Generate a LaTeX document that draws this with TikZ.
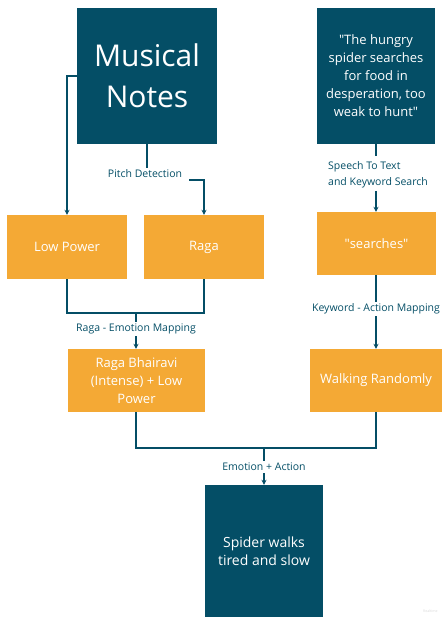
\documentclass[tikz,border=0pt]{standalone}
\usepackage{fontspec}
\setmainfont{Open Sans}
\usetikzlibrary{arrows.meta}
\definecolor{teal}{RGB}{4,78,102}
\definecolor{orng}{RGB}{244,169,53}
\begin{document}
\begin{tikzpicture}[x=1pt,y=-1pt,
  darkbox/.style={fill=teal,draw=none,text=white,align=center,inner sep=0pt},
  orbox/.style={fill=orng,draw=none,text=white,align=center,inner sep=0pt,
     font=\fontsize{13}{18}\selectfont},
  lbl/.style={text=teal,font=\fontsize{10.5}{16}\selectfont,inner sep=2pt},
  ln/.style={draw=teal,line width=1.3pt},
  arr/.style={ln,-{Stealth[length=5pt,width=5pt]}}]
\useasboundingbox (0,0) rectangle (442,617);
% boxes
\node[darkbox,minimum width=140,minimum height=136,font=\fontsize{30}{41}\selectfont] (notes) at (147,76) {Musical\\Notes};
\node[darkbox,minimum width=118,minimum height=136,font=\fontsize{13}{18}\selectfont] (quote) at (376,76) {\textquotedbl The hungry\\spider searches\\for food in\\desperation, too\\weak to hunt\textquotedbl};
\node[orbox,minimum width=120,minimum height=64] (low) at (67,247) {Low Power};
\node[orbox,minimum width=120,minimum height=64] (raga) at (204,247) {Raga};
\node[orbox,minimum width=119,minimum height=63] (searches) at (376.5,243.5) {\textquotedbl searches\textquotedbl};
\node[orbox,minimum width=137,minimum height=63] (bhairavi) at (136.5,380.5) {Raga Bhairavi\\(Intense) + Low\\Power};
\node[orbox,minimum width=132,minimum height=63] (walking) at (376,380.5) {Walking Randomly};
\node[darkbox,minimum width=118,minimum height=132,font=\fontsize{14}{18}\selectfont] (spider) at (264,551) {Spider walks\\tired and slow};
% labels
\node[lbl] (pitch) at (145,174) {Pitch Detection};
\node[lbl,align=left,font=\fontsize{10.5}{16}\selectfont] (speech) at (378,175) {Speech To Text\\and Keyword Search};
\node[lbl] (remap) at (136,329) {Raga - Emotion Mapping};
\node[lbl] (kamap) at (376,309) {Keyword - Action Mapping};
\node[lbl] (ea) at (264,467) {Emotion + Action};
% connectors
\draw[arr] (notes.west) -| (low.north);
\draw[ln] (notes.south) -- (notes.south |- pitch.north);
\coordinate (pc) at (189,180);
\draw[arr] (pc) -| (raga.north);
\draw[ln] (quote.south) -- (quote.south |- 0,156);
\draw[arr] (quote.south |- 0,191) -- (searches.north -| quote.south);
\coordinate (j1) at (136,313);
\draw[ln] (low.south) |- (j1) -| (raga.south);
\draw[ln] (j1) -- (remap.north);
\draw[arr] (remap.south) -- (bhairavi.north -| remap.south);
\draw[ln] (searches.south -| kamap.north) -- (kamap.north);
\draw[arr] (kamap.south) -- (walking.north -| kamap.south);
\coordinate (j2) at (264,448);
\draw[ln] (bhairavi.south -| j1) |- (j2);
\draw[ln] (j2) -| (walking.south);
\draw[ln] (j2) -- (ea.north);
\draw[arr] (ea.south) -- (spider.north);
\node[text=black!15,font=\fontsize{3.5}{4}\selectfont,inner sep=0pt,anchor=west] (wm) at (423,611) {Realtime};
\end{tikzpicture}
\end{document}
